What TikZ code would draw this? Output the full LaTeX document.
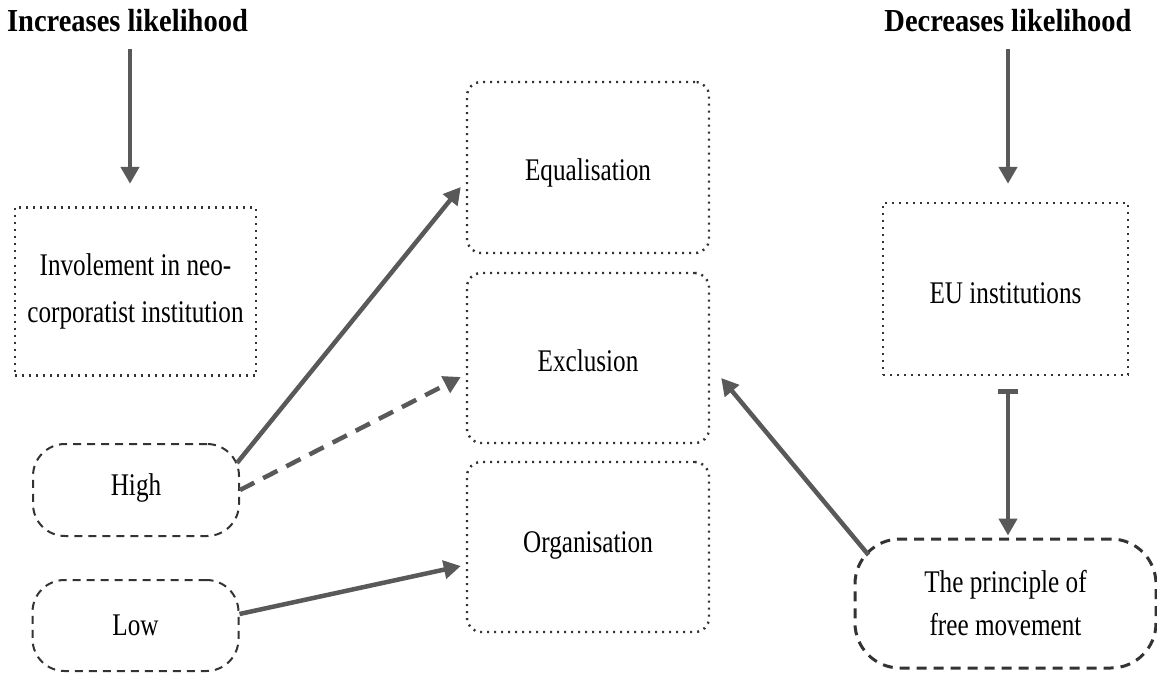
\documentclass[tikz,border=0pt]{standalone}
\usepackage{fontspec}
\setmainfont{Liberation Serif}[FakeStretch=0.8]
\newfontfamily\headfont{Liberation Serif}[FakeStretch=0.89]
\usetikzlibrary{arrows.meta}
\definecolor{arrgray}{HTML}{595959}
\definecolor{boxgray}{HTML}{333333}

\begin{document}
\begin{tikzpicture}[x=1pt, y=-1pt,
    every node/.style={font=\fontsize{31.5}{47}\selectfont},
    head/.style={font=\headfont\bfseries\fontsize{32}{38}\selectfont, anchor=base, inner sep=0pt},
    dotbox/.style={draw=boxgray, line width=2.4pt, dash pattern=on 2pt off 5pt, inner sep=0pt, align=center},
    dashbox/.style={draw=boxgray, line width=2pt, dash pattern=on 8pt off 6pt, inner sep=0pt, align=center},
    lift/.style={text height=#1, text depth=0pt},
    arr/.style={draw=arrgray, line width=4.5pt, -{Triangle[length=17pt, width=18pt]}},
  ]
  \useasboundingbox[fill=white] (0,0) rectangle (1157,674);

  % headings
  \node[head] (inc) at (127.5,32) {Increases likelihood};
  \node[head] (dec) at (1008,32) {Decreases likelihood};

  % left column
  \node[dotbox, minimum width=241pt, minimum height=168pt] (invol) at (135.5,291.5) {Involement in neo-\\corporatist institution};
  \node[dashbox, rounded corners=32pt, minimum width=206pt, minimum height=92pt, lift=10pt] (high) at (136,490) {High};
  \node[dashbox, rounded corners=32pt, minimum width=206pt, minimum height=91pt, lift=19pt] (low) at (135.5,625.5) {Low};

  % outcomes
  \node[dotbox, rounded corners=14pt, minimum width=242pt, minimum height=171pt, lift=25pt] (equal) at (588,167.5) {Equalisation};
  \node[dotbox, rounded corners=14pt, minimum width=242pt, minimum height=170pt, lift=27pt] (excl) at (588,358) {Exclusion};
  \node[dotbox, rounded corners=14pt, minimum width=242pt, minimum height=170pt, lift=10pt] (org) at (588,547) {Organisation};

  % right column
  \node[dotbox, minimum width=245pt, minimum height=172pt, lift=28pt] (eu) at (1005.5,289) {EU institutions};
  \node[dashbox, line width=3pt, dash pattern=on 10pt off 7pt, rounded corners=45pt, minimum width=301pt, minimum height=129pt, font=\fontsize{31.5}{43}\selectfont] (princ) at (1005.5,603.5) {The principle of\\free movement};

  \draw[arr] ([shift={(2.5,16)}]inc.south) -- ([shift={(-5.5,-22.5)}]invol.north);
  \draw[arr] ([shift={(0,16)}]dec.south) -- ([shift={(2.5,-18)}]eu.north);
  \draw[arr] ([shift={(-3,-27)}]high.east) -- ([shift={(-5,19.5)}]equal.west);
  \draw[arr, dash pattern=on 16pt off 10pt] (high.east) -- ([shift={(-5,19)}]excl.west);
  \draw[arr] ([shift={(0,-11.5)}]low.east) -- ([shift={(-5,19)}]org.west);
  \draw[arr] ([shift={(15,-48.5)}]princ.west) -- ([shift={(11,20)}]excl.east);
  \draw[arr, {Bar[width=20pt]}-{Triangle[length=17pt, width=18pt]}] ([shift={(2.5,13)}]eu.south) -- ([shift={(2.5,-2)}]princ.north);
\end{tikzpicture}
\end{document}
